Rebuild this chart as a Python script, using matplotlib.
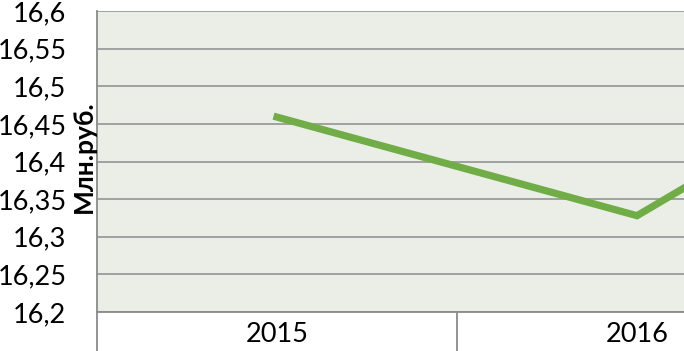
import numpy as np
import matplotlib
matplotlib.use("Agg")
import matplotlib.pyplot as plt

years = ['2015', '2016', '2017']
values = [16.459, 16.328, 16.61]
y_ticks = [16.2, 16.25, 16.3, 16.35, 16.4, 16.45, 16.5, 16.55, 16.6]
y_labels = ['16,2', '16,25', '16,3', '16,35', '16,4', '16,45', '16,5', '16,55', '16,6']

plt.rcParams['font.family'] = ['Lato', 'DejaVu Sans']

fig = plt.figure(figsize=(6.84, 3.51), dpi=100)
W, H = 684, 351
# plot area spans three categories, the third one falls outside the picture
ax = fig.add_axes([97 / W, 1 - 312 / H, 1080 / W, 301 / H])
ax.set_facecolor('#eaeee7')

x = np.arange(len(years))
ax.plot(x, values, color='#70ad47', lw=5.2, solid_joinstyle='miter', clip_on=False, zorder=3)

ax.set_xlim(-0.5, len(years) - 0.5)
ax.set_ylim(16.2, 16.6)
ax.set_yticks(y_ticks)
ax.set_yticklabels(y_labels, fontsize=19.5)
ax.tick_params(axis='y', length=0, pad=22)
ax.grid(axis='y', color='#9a9a9a', lw=1.3)
ax.set_axisbelow(True)

ax.set_xticks(x)
# the 2017 label lies outside the cropped picture
ax.set_xticklabels(years[:2] + [''], fontsize=19.5)
ax.set_xticks(np.arange(len(years) + 1) - 0.5, minor=True)
ax.tick_params(axis='x', which='major', length=0, pad=7)
ax.tick_params(axis='x', which='minor', length=30, width=1.3, color='#8a8a8a', direction='out')

for side in ['top', 'right']:
    ax.spines[side].set_visible(False)
ax.spines['left'].set_color('#8a8a8a')
ax.spines['left'].set_linewidth(1.3)
ax.spines['bottom'].set_color('#8a8a8a')
ax.spines['bottom'].set_linewidth(1.3)

fig.text(84 / W, 1 - 157 / H, 'Млн.руб.', rotation=90, fontsize=19, fontweight='bold',
         ha='center', va='center')

fig.savefig('out.png', dpi=100, facecolor='white')
